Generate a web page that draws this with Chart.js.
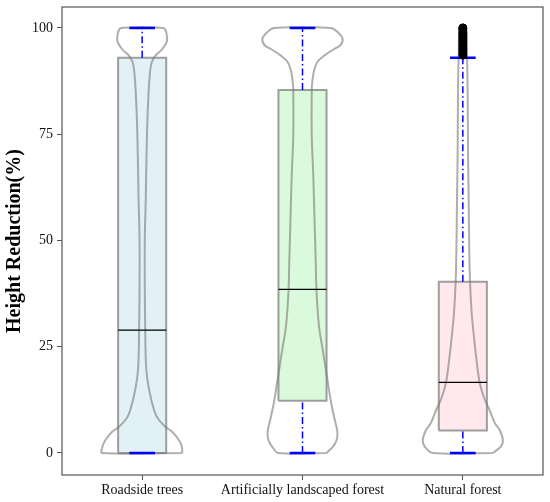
<!DOCTYPE html>
<html>
<head>
<meta charset="utf-8">
<script src="https://cdn.jsdelivr.net/npm/chart.js@4/dist/chart.umd.min.js"></script>
<style>
  html, body { margin: 0; padding: 0; background: #fff; }
  canvas { display: block; }
</style>
</head>
<body>
<canvas id="violinChart" width="550" height="502"></canvas>
<script>
// categories and box statistics
const categories = ['Roadside trees', 'Artificially landscaped forest', 'Natural forest'];
const whiskerLow = [0, 0, 0];
const q1 = [0, 12.3, 5.3];
const medians = [28.9, 38.5, 16.6];
const q3 = [93.0, 85.4, 40.3];
const whiskerHigh = [100, 100, 93.0];
const naturalOutliers = [93.6, 94.1, 94.7, 95.2, 95.8, 96.3, 96.9, 97.4, 98.0, 98.5, 99.0, 99.5, 100, 100];
const yTicks = [0, 25, 50, 75, 100];

// violin densities (normalised to 1)
const roadsideLevels = [0, 1.5, 3, 5, 6, 8, 10, 15, 20, 30, 40, 50, 60, 75, 85, 90, 92, 93.5, 95, 97, 99, 100];
const roadsideDensity = [1.0, 0.99, 0.92, 0.75, 0.6, 0.4, 0.3, 0.17, 0.1, 0.075, 0.065, 0.065, 0.09, 0.12, 0.16, 0.2, 0.24, 0.33, 0.5, 0.62, 0.6, 0.53];
const artificialLevels = [0, 1.5, 3, 5, 8, 12, 18, 24, 30, 38, 45, 55, 65, 75, 85, 87, 90, 92, 93.5, 95, 96, 97.5, 99, 100];
const artificialDensity = [0.6, 0.76, 0.85, 0.87, 0.8, 0.71, 0.61, 0.51, 0.41, 0.35, 0.33, 0.3, 0.27, 0.23, 0.23, 0.24, 0.29, 0.37, 0.54, 0.78, 0.95, 1.0, 0.88, 0.71];
const naturalLevels = [0, 1.5, 3, 5.4, 7, 10, 13, 16.6, 22, 28, 33, 40, 48, 60, 70, 85, 95, 100];
const naturalDensity = [0.75, 0.95, 1.0, 0.92, 0.8, 0.67, 0.53, 0.42, 0.34, 0.27, 0.22, 0.18, 0.16, 0.145, 0.13, 0.12, 0.1, 0.07];

const violinLevels = [roadsideLevels, artificialLevels, naturalLevels];
const violinDensity = [roadsideDensity, artificialDensity, naturalDensity];

const boxFills = ['rgba(173,216,230,0.35)', 'rgba(144,238,144,0.32)', 'rgba(255,192,203,0.35)'];
const VIOLIN_HALF = 0.25;
const BOX_HALF = 0.15;
const CAP_HALF = 0.08;

function violinPath(i) {
    const lv = violinLevels[i], d = violinDensity[i];
    const right = lv.map((y, k) => ({ x: i + VIOLIN_HALF * d[k], y: y }));
    const left = lv.map((y, k) => ({ x: i - VIOLIN_HALF * d[k], y: y })).reverse();
    return right.concat(left, [right[0]]);
}

function boxPath(i) {
    return [
        { x: i - BOX_HALF, y: q1[i] }, { x: i + BOX_HALF, y: q1[i] },
        { x: i + BOX_HALF, y: q3[i] }, { x: i - BOX_HALF, y: q3[i] },
        { x: i - BOX_HALF, y: q1[i] }
    ];
}

const datasets = [];
categories.forEach((c, i) => {
    datasets.push({
        data: boxPath(i), showLine: true, fill: 'shape',
        backgroundColor: boxFills[i], borderColor: 'rgba(120,120,120,0.7)',
        borderWidth: 2, pointRadius: 0, order: 6
    });
    datasets.push({
        data: violinPath(i), showLine: true, fill: false, tension: 0.35,
        borderColor: 'rgba(120,120,120,0.6)', borderWidth: 2, pointRadius: 0, order: 5
    });
});

const whiskerPts = [], capPts = [], medianPts = [];
categories.forEach((c, i) => {
    whiskerPts.push({ x: i, y: q3[i] }, { x: i, y: whiskerHigh[i] }, { x: i, y: null });
    whiskerPts.push({ x: i, y: whiskerLow[i] }, { x: i, y: q1[i] }, { x: i, y: null });
    capPts.push({ x: i - CAP_HALF, y: whiskerHigh[i] }, { x: i + CAP_HALF, y: whiskerHigh[i] }, { x: i, y: null });
    capPts.push({ x: i - CAP_HALF, y: whiskerLow[i] }, { x: i + CAP_HALF, y: whiskerLow[i] }, { x: i, y: null });
    medianPts.push({ x: i - BOX_HALF, y: medians[i] }, { x: i + BOX_HALF, y: medians[i] }, { x: i, y: null });
});

datasets.push({
    data: whiskerPts, showLine: true, spanGaps: false, borderColor: '#0000ff',
    borderWidth: 1.5, borderDash: [7, 3, 1.5, 3], pointRadius: 0, order: 3
});
datasets.push({
    data: capPts, showLine: true, spanGaps: false, borderColor: '#0000ff',
    borderWidth: 2.5, pointRadius: 0, order: 2
});
datasets.push({
    data: medianPts, showLine: true, spanGaps: false, borderColor: '#000',
    borderWidth: 1.3, pointRadius: 0, order: 1
});
datasets.push({
    data: naturalOutliers.map(v => ({ x: 2, y: v })), showLine: false,
    pointRadius: 4, pointBackgroundColor: '#000', pointBorderColor: '#000',
    pointBorderWidth: 1, order: 0
});

const framePlugin = {
    id: 'frame',
    afterDraw(chart) {
        const a = chart.chartArea, ctx = chart.ctx;
        ctx.save();
        ctx.strokeStyle = '#555';
        ctx.lineWidth = 1.2;
        ctx.strokeRect(a.left, a.top, a.right - a.left, a.bottom - a.top);
        ctx.restore();
    }
};

const tickFont = { family: '"Liberation Serif", "Times New Roman", serif', size: 14 };

new Chart(document.getElementById('violinChart'), {
    type: 'scatter',
    data: { datasets: datasets },
    options: {
        responsive: false,
        animation: false,
        layout: { padding: { top: 7, right: 7, left: 0, bottom: 0 } },
        plugins: { legend: { display: false }, tooltip: { enabled: false } },
        scales: {
            x: {
                type: 'linear', min: -0.5, max: 2.5,
                afterBuildTicks: s => { s.ticks = [0, 1, 2].map(v => ({ value: v })); },
                afterFit: s => { s.height = 27; s.paddingLeft = 0; s.paddingRight = 0; },
                border: { display: false },
                grid: { drawOnChartArea: false, drawTicks: true, tickLength: 5, color: '#555' },
                ticks: { font: tickFont, color: '#111', padding: 2, maxRotation: 0,
                         callback: (v, idx) => categories[idx] }
            },
            y: {
                min: -5.18, max: 104.94,
                afterBuildTicks: s => { s.ticks = yTicks.map(v => ({ value: v })); },
                afterFit: s => { s.width = 62; s.paddingTop = 0; s.paddingBottom = 0; },
                border: { display: false },
                grid: { drawOnChartArea: false, drawTicks: true, tickLength: 5, color: '#555' },
                ticks: { font: tickFont, color: '#111', padding: 4 },
                title: {
                    display: true, text: 'Height Reduction(%)', color: '#000',
                    font: { family: '"Liberation Serif", "Times New Roman", serif', size: 20, weight: 'bold' },
                    padding: { top: 3, bottom: 0 }
                }
            }
        }
    },
    plugins: [framePlugin]
});
</script>
</body>
</html>
